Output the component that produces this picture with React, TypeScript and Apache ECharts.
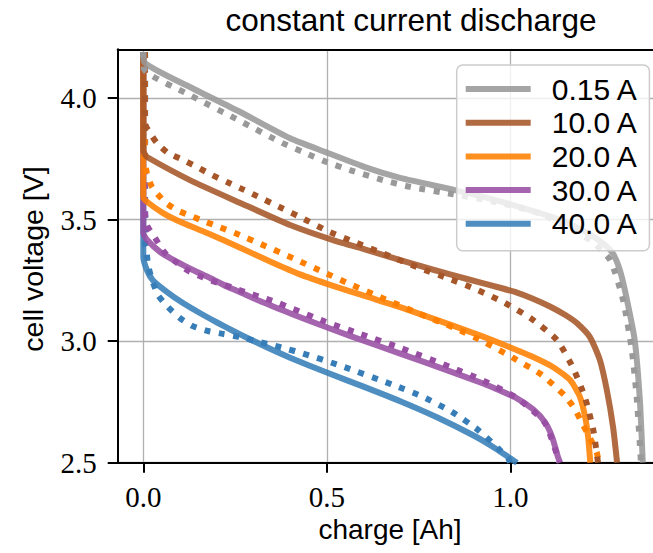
import React, { useEffect, useRef } from "react";
import * as echarts from "echarts";

// legend labels
const currents = ["0.15 A", "10.0 A", "20.0 A", "30.0 A", "40.0 A"];
const colors = ["#999999", "#a65628", "#ff7f00", "#984ea3", "#377eb8"];

// tick labels
const xTicks = [0, 0.5, 1.0];
const yTicks = [2.5, 3.0, 3.5, 4.0];

// solid curves: [charge Ah, voltage V]
const solid015: [number, number][] = [
  [0, 4.19], [0.002, 4.15], [0.127, 4.046], [0.264, 3.943], [0.4, 3.835], [0.495, 3.779],
  [0.61, 3.713], [0.7, 3.672], [0.849, 3.622], [0.95, 3.585], [1.081, 3.527], [1.15, 3.49],
  [1.217, 3.44], [1.255, 3.4], [1.28, 3.36], [1.3, 3.285], [1.318, 3.169], [1.339, 3.004],
  [1.353, 2.758], [1.361, 2.5],
];
const solid10: [number, number][] = [
  [0, 4.19], [0, 3.787], [0.004, 3.77], [0.01, 3.758], [0.127, 3.663], [0.264, 3.569], [0.4, 3.478],
  [0.517, 3.416], [0.61, 3.375], [0.7, 3.334], [0.79, 3.294], [0.882, 3.256], [0.972, 3.22],
  [1.018, 3.2], [1.06, 3.176], [1.108, 3.143], [1.15, 3.108], [1.182, 3.074], [1.217, 3.017],
  [1.244, 2.923], [1.263, 2.799], [1.28, 2.647], [1.291, 2.5],
];
const solid20: [number, number][] = [
  [0, 4.19], [0, 3.593], [0.005, 3.58], [0.054, 3.527], [0.108, 3.486], [0.174, 3.445], [0.264, 3.385],
  [0.35, 3.325], [0.427, 3.275], [0.517, 3.228], [0.61, 3.183], [0.7, 3.14], [0.836, 3.068],
  [0.926, 3.019], [0.994, 2.978], [1.062, 2.935], [1.116, 2.894], [1.163, 2.84], [1.19, 2.77],
  [1.204, 2.688], [1.212, 2.606], [1.218, 2.5],
];
const solid30: [number, number][] = [
  [0, 4.19], [0, 3.445], [0.01, 3.417], [0.046, 3.367], [0.092, 3.326], [0.135, 3.293], [0.182, 3.26],
  [0.228, 3.225], [0.272, 3.196], [0.318, 3.165], [0.365, 3.136], [0.408, 3.11], [0.454, 3.083],
  [0.563, 3.022], [0.7, 2.949], [0.836, 2.876], [0.926, 2.826], [0.972, 2.797], [1.018, 2.765],
  [1.062, 2.72], [1.094, 2.668], [1.114, 2.606], [1.13, 2.523], [1.136, 2.5],
];
const solid40: [number, number][] = [
  [0, 4.19], [0, 3.346], [0.01, 3.292], [0.026, 3.251], [0.065, 3.202], [0.108, 3.157], [0.154, 3.116],
  [0.201, 3.077], [0.244, 3.043], [0.292, 3.007], [0.338, 2.974], [0.4, 2.932], [0.5, 2.871],
  [0.6, 2.813], [0.7, 2.753], [0.8, 2.687], [0.9, 2.612], [0.95, 2.568], [1.0, 2.518], [1.018, 2.5],
];

// dotted curves: [charge Ah, voltage V]
const dotted015: [number, number][] = [
  [0, 4.19], [0.002, 4.12], [0.127, 4.013], [0.264, 3.906], [0.378, 3.816], [0.435, 3.779],
  [0.495, 3.74], [0.563, 3.704], [0.653, 3.663], [0.727, 3.635], [0.844, 3.605], [0.953, 3.575],
  [1.081, 3.525], [1.217, 3.416], [1.272, 3.334], [1.307, 3.17], [1.331, 2.964], [1.345, 2.758],
  [1.356, 2.5],
];
const dotted10: [number, number][] = [
  [0.004, 4.19], [0.004, 3.9], [0.013, 3.869], [0.037, 3.816], [0.067, 3.775], [0.108, 3.746],
  [0.146, 3.717], [0.187, 3.684], [0.228, 3.655], [0.264, 3.63], [0.31, 3.597], [0.381, 3.545],
  [0.427, 3.511], [0.5, 3.455], [0.582, 3.404], [0.664, 3.355], [0.746, 3.305], [0.828, 3.26],
  [0.909, 3.212], [0.986, 3.157], [1.059, 3.091], [1.127, 3.005], [1.171, 2.89], [1.204, 2.766],
  [1.226, 2.635], [1.239, 2.5],
];
const dotted20: [number, number][] = [
  [0.004, 4.19], [0.004, 3.75], [0.01, 3.691], [0.024, 3.634], [0.059, 3.572], [0.092, 3.539],
  [0.127, 3.517], [0.168, 3.492], [0.209, 3.469], [0.256, 3.441], [0.332, 3.392], [0.413, 3.338],
  [0.49, 3.285], [0.569, 3.231], [0.651, 3.178], [0.749, 3.115], [0.849, 3.054], [0.931, 2.995],
  [1.007, 2.932], [1.086, 2.861], [1.149, 2.775], [1.176, 2.72], [1.195, 2.664], [1.217, 2.602],
  [1.236, 2.54], [1.241, 2.5],
];
const dotted30: [number, number][] = [
  [0.004, 4.19], [0.004, 3.55], [0.01, 3.477], [0.032, 3.425], [0.059, 3.363], [0.092, 3.322],
  [0.122, 3.29], [0.163, 3.262], [0.204, 3.24], [0.245, 3.219], [0.286, 3.198], [0.327, 3.178],
  [0.368, 3.157], [0.408, 3.133], [0.495, 3.081], [0.591, 3.03], [0.7, 2.973], [0.836, 2.894],
  [0.926, 2.838], [1.018, 2.766], [1.094, 2.664], [1.13, 2.52], [1.133, 2.5],
];
const dotted40: [number, number][] = [
  [0.005, 4.19], [0.005, 3.4], [0.008, 3.383], [0.013, 3.313], [0.024, 3.252], [0.04, 3.19],
  [0.067, 3.141], [0.1, 3.095], [0.135, 3.062], [0.176, 3.042], [0.217, 3.03], [0.264, 3.017],
  [0.304, 3.001], [0.351, 2.984], [0.392, 2.968], [0.432, 2.951], [0.536, 2.9], [0.681, 2.82],
  [0.762, 2.771], [0.841, 2.709], [0.912, 2.635], [0.972, 2.552], [0.994, 2.519], [0.999, 2.5],
];

const solidSets = [solid015, solid10, solid20, solid30, solid40];
const dottedSets = [dotted015, dotted10, dotted20, dotted30, dotted40];

export default function App() {
  const ref = useRef<HTMLDivElement>(null);
  useEffect(() => {
    if (!ref.current) return;
    const chart = echarts.init(ref.current, undefined, { renderer: "svg" });
    const series: any[] = [];
    currents.forEach((name, i) => {
      const zBase = 2 + (currents.length - i) * 2;
      series.push({
        name,
        type: "line",
        data: solidSets[i],
        showSymbol: false,
        symbol: "none",
        smooth: 0.2,
        z: zBase,
        lineStyle: { color: colors[i], width: 6, opacity: 0.88, join: "round" },
        itemStyle: { color: colors[i], opacity: 0.88 },
        silent: true,
      });
      series.push({
        name: name + " dotted",
        type: "line",
        data: dottedSets[i],
        showSymbol: false,
        symbol: "none",
        smooth: 0.2,
        z: zBase + 1,
        lineStyle: { color: colors[i], width: 6, type: [6, 8.5], cap: "butt" },
        itemStyle: { color: colors[i] },
        silent: true,
      });
    });
    const serif = "Liberation Serif";
    const sans = "Liberation Sans";
    chart.setOption({
      animation: false,
      grid: { left: 117.7, right: 0, top: 49.3, bottom: 90.3, containLabel: false },
      xAxis: [
        {
          type: "value",
          min: -0.06975,
          max: 1.38883,
          position: "bottom",
          axisLine: { show: true, onZero: false, lineStyle: { color: "#000", width: 2 } },
          axisTick: { show: true, length: 10, customValues: xTicks, lineStyle: { color: "#000", width: 2 } },
          axisLabel: {
            customValues: xTicks,
            formatter: (v: number) => v.toFixed(1),
            fontFamily: serif,
            fontSize: 29,
            color: "#000",
            margin: 20,
          },
          splitLine: { show: true, lineStyle: { color: "#b0b0b0", width: 1.3 } },
        },
        {
          type: "value",
          min: -0.06975,
          max: 1.38883,
          position: "top",
          axisLine: { show: true, onZero: false, lineStyle: { color: "#000", width: 2 } },
          axisTick: { show: false },
          axisLabel: { show: false },
          splitLine: { show: false },
        },
      ],
      yAxis: {
        type: "value",
        min: 2.5,
        max: 4.2012,
        axisLine: { show: true, onZero: false, lineStyle: { color: "#000", width: 2 } },
        axisTick: { show: true, length: 10, customValues: yTicks, lineStyle: { color: "#000", width: 2 } },
        axisLabel: {
          customValues: yTicks,
          formatter: (v: number) => v.toFixed(1),
          fontFamily: serif,
          fontSize: 29,
          color: "#000",
          margin: 21,
        },
        splitLine: { show: true, lineStyle: { color: "#b0b0b0", width: 1.3 } },
      },
      legend: {
        data: currents,
        orient: "vertical",
        left: 456.7,
        top: 65,
        padding: [9, 11, 12, 9],
        icon: "rect",
        itemWidth: 65,
        itemHeight: 6,
        itemGap: 3.7,
        selectedMode: false,
        textStyle: { fontFamily: sans, fontSize: 30, color: "#000", padding: [0, 0, 0, 16], lineHeight: 30 },
        backgroundColor: "rgba(255,255,255,0.8)",
        borderColor: "#cccccc",
        borderWidth: 1.5,
        borderRadius: 6,
        z: 30,
      },
      graphic: [
        {
          type: "text",
          x: 411,
          y: 20,
          style: {
            text: "constant current discharge",
            fontFamily: sans,
            fontSize: 31.5,
            fill: "#000",
            align: "center",
            verticalAlign: "middle",
          },
        },
        {
          type: "text",
          x: 390,
          y: 529,
          style: {
            text: "charge [Ah]",
            fontFamily: sans,
            fontSize: 28,
            fill: "#000",
            align: "center",
            verticalAlign: "middle",
          },
        },
        {
          type: "text",
          x: 33,
          y: 259,
          rotation: Math.PI / 2,
          style: {
            text: "cell voltage [V]",
            fontFamily: sans,
            fontSize: 28.5,
            fill: "#000",
            align: "center",
            verticalAlign: "middle",
          },
        },
      ],
      series,
    });
    return () => chart.dispose();
  }, []);
  return (
    <div
      ref={ref}
      style={{ position: "fixed", left: 0, top: 0, width: 653, height: 553, background: "#fff" }}
    />
  );
}
